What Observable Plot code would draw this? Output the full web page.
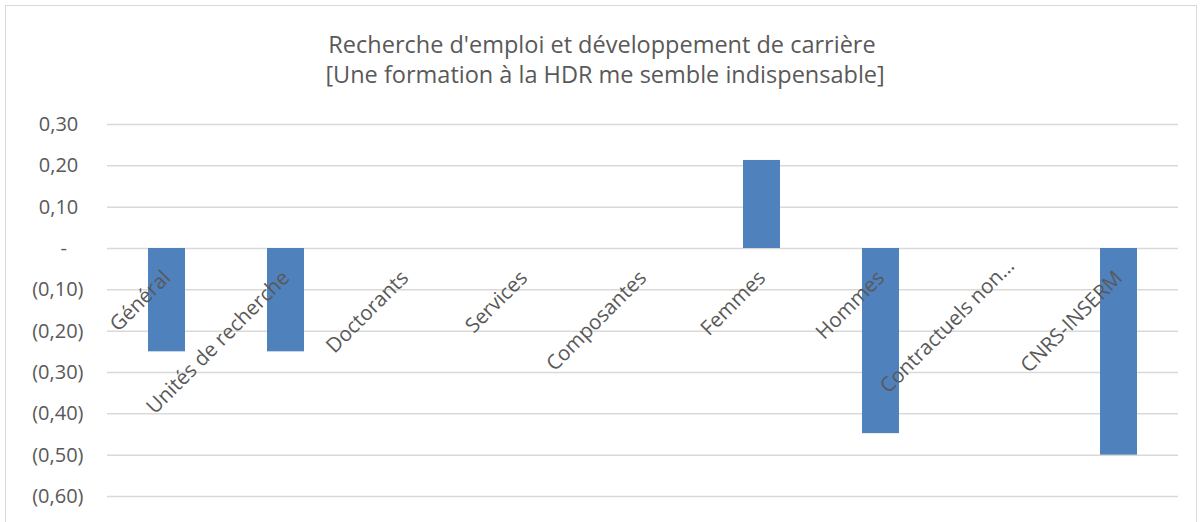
<!DOCTYPE html>
<html>
<head>
<meta charset="utf-8">
<script src="https://cdn.jsdelivr.net/npm/d3@7"></script>
<script src="https://cdn.jsdelivr.net/npm/@observablehq/plot@0.6"></script>
<style>
  html, body { margin: 0; padding: 0; background: #fff; overflow: hidden; }
  #wrap { position: relative; width: 1204px; height: 522px; overflow: hidden; }
  #border { position: absolute; left: 5px; top: 5px; width: 1192px; height: 540px; border: 1.5px solid #d9d9d9; box-sizing: border-box; }
  #title { position: absolute; left: 0; top: 29px; width: 1204px; text-align: center;
    font-family: "Open Sans", sans-serif; font-size: 23.5px; line-height: 30px; color: #595959; }
  #chart { position: absolute; left: 0; top: 0; }
</style>
</head>
<body>
<div id="wrap">
  <div id="border"></div>
  <div id="chart"></div>
  <div id="title">Recherche d'emploi et développement de carrière<br>&nbsp;[Une formation à la HDR me semble indispensable]</div>
</div>
<script>
const categories = ["Général", "Unités de recherche", "Doctorants", "Services", "Composantes", "Femmes", "Hommes", "Contractuels non…", "CNRS-INSERM"];
const values = [-0.25, -0.25, 0, 0, 0, 0.213, -0.448, 0, -0.50];
const yTicks = [0.3, 0.2, 0.1, 0, -0.1, -0.2, -0.3, -0.4, -0.5, -0.6];

const data = categories.map((c, i) => ({cat: c, value: values[i]}));
const truncated = "Contractuels non…";

function fmt(v) {
  const r = Math.round(v * 100) / 100;
  if (Math.abs(r) < 1e-9) return "-\u2007\u00a0";
  const s = Math.abs(r).toFixed(2).replace(".", ",");
  return r < 0 ? "(" + s + ")" : s + "\u00a0";
}

const labelStyle = { x: "cat", y: () => 0, text: "cat", rotate: -45, textAnchor: "end", fontSize: 20.5, fill: "#595959" };

const chart = Plot.plot({
  width: 1204,
  height: 522,
  marginTop: 124,
  marginBottom: 26,
  marginLeft: 107,
  marginRight: 26,
  style: { fontFamily: "'Open Sans', sans-serif", background: "transparent", overflow: "visible" },
  x: { domain: categories, paddingInner: 0.69, paddingOuter: 0.345, axis: null },
  y: { domain: [-0.6, 0.3], axis: null },
  marks: [
    Plot.ruleY(yTicks, { stroke: "#d9d9d9", strokeWidth: 1.5 }),
    Plot.barY(data, { x: "cat", y: "value", fill: "#4f81bd" }),
    Plot.axisY(yTicks, { label: null, tickSize: 0, tickPadding: 24, tickFormat: fmt, fontSize: 20, fill: "#595959", textAnchor: "end" }),
    Plot.text(data.filter(d => d.cat !== truncated), { ...labelStyle, dx: 0, dy: 26 }),
    Plot.text(data.filter(d => d.cat === truncated), { ...labelStyle, dx: 11, dy: 14 })
  ]
});
document.getElementById("chart").appendChild(chart);
</script>
</body>
</html>
